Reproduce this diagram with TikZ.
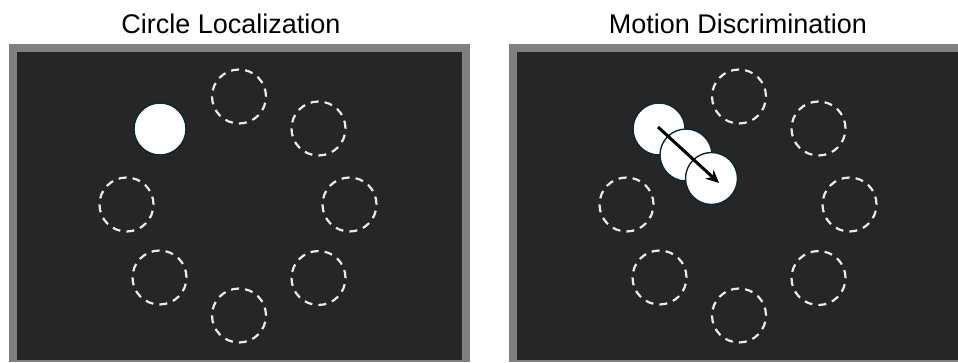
\documentclass[tikz,border=0pt]{standalone}
\usepackage{fontspec}
\setmainfont{Liberation Sans}
\usetikzlibrary{arrows.meta}
\definecolor{frame}{RGB}{128,128,128}
\definecolor{screen}{RGB}{38,38,38}
\definecolor{slot}{RGB}{235,235,235}
\definecolor{rim}{RGB}{12,38,52}
\tikzset{
  title/.style={anchor=base, font=\fontsize{27}{32}\selectfont, inner sep=0},
  slotc/.style={circle, draw=slot, line width=2.2pt, minimum size=54pt, inner sep=0,
    dash pattern=on 8pt off 6.1pt},
  dotc/.style={circle, draw=rim, fill=white, line width=1.4pt, minimum size=52pt, inner sep=0},
  motion/.style={line width=3pt, -{Stealth[length=13pt,width=12pt]}}
}
\begin{document}
\begin{tikzpicture}[x=1pt,y=-1pt]
\useasboundingbox (0,0) rectangle (958,362);
\fill[white] (0,0) rectangle (958,362);

% panels
\fill[frame] (9,44) rectangle (470,362);
\fill[screen] (16.5,52) rectangle (462,360);
\fill[frame] (509,44) rectangle (958,362);
\fill[screen] (516.5,52) rectangle (958,360);

% titles
\node[title] (t1) at (231,33) {Circle Localization};
\node[title] (t2) at (738,33) {Motion Discrimination};

% left panel: ring of slots, one filled
\node[slotc] (a1) at (239,96.5) {};
\node[slotc] (a2) at (318.5,128.5) {};
\node[slotc] (a3) at (349.5,204.5) {};
\node[slotc] (a4) at (318.5,278) {};
\node[slotc] (a5) at (239,315.5) {};
\node[slotc] (a6) at (159.5,277.5) {};
\node[slotc] (a7) at (126.5,204.5) {};
\node[dotc]  (a8) at (160,129) {};

% right panel: ring of slots with a moving dot
\node[slotc] (b1) at (739,96.5) {};
\node[slotc] (b2) at (818.5,128.5) {};
\node[slotc] (b3) at (849.5,204.5) {};
\node[slotc] (b4) at (818.5,278) {};
\node[slotc] (b5) at (739,315.5) {};
\node[slotc] (b6) at (659.5,277.5) {};
\node[slotc] (b7) at (626.5,204.5) {};
\node[dotc] (m1) at (659,129) {};
\node[dotc] (m2) at (686,155) {};
\node[dotc] (m3) at (711.5,178.5) {};

\coordinate (ms) at (658,127);
\coordinate (me) at (719,183);
\draw[motion] (ms) -- (me);
\end{tikzpicture}
\end{document}
